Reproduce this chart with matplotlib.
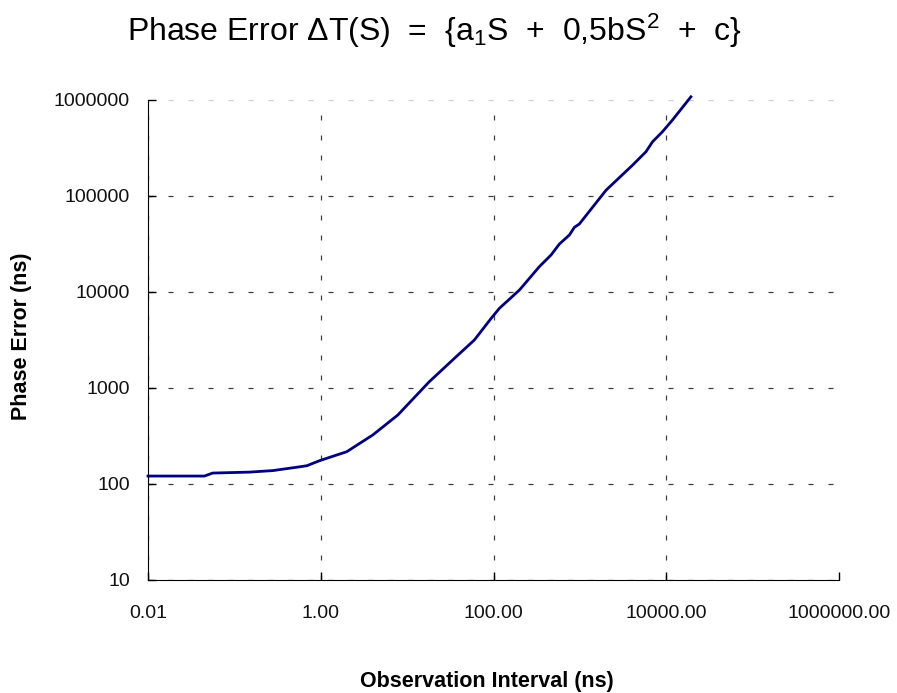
import matplotlib
matplotlib.use('Agg')
import matplotlib.pyplot as plt
from matplotlib.ticker import FixedLocator, FuncFormatter

plt.rcParams['font.family'] = ['Liberation Sans', 'DejaVu Sans']
plt.rcParams['mathtext.fontset'] = 'custom'
plt.rcParams['mathtext.rm'] = 'Liberation Sans'
plt.rcParams['mathtext.it'] = 'Liberation Sans'

# values
interval_ns = [0.01, 0.045, 0.056, 0.15, 0.28, 0.57, 0.69, 0.97, 2.0, 4.0, 7.8, 18, 37, 60, 94, 117,
               200, 340, 464, 579, 757, 864, 986, 2010, 4080, 5820, 6950, 9060, 11800, 19300]
phase_err_ns = [121, 121, 130, 133, 138, 151, 155, 175, 217, 324, 523, 1160, 2120, 3160, 5320, 6760,
                10500, 18400, 24300, 31600, 39300, 47200, 51100, 115000, 210000, 289000, 368000,
                468000, 619000, 1080000]
x_ticks = [0.01, 1, 100, 1e4, 1e6]
y_ticks = [10, 100, 1000, 1e4, 1e5, 1e6]

fig = plt.figure(figsize=(8.97, 6.93), dpi=100)
ax = fig.add_axes([148/897, 1 - 580/693, (839 - 148)/897, (580 - 100)/693])

ax.plot(interval_ns, phase_err_ns, color='#000080', lw=2, clip_on=False, zorder=3)

ax.set_xscale('log')
ax.set_yscale('log')
ax.set_xlim(0.01, 1e6)
ax.set_ylim(10, 1e6)
ax.xaxis.set_major_locator(FixedLocator(x_ticks))
ax.yaxis.set_major_locator(FixedLocator(y_ticks))
ax.xaxis.set_minor_locator(FixedLocator([]))
ax.yaxis.set_minor_locator(FixedLocator([]))
ax.xaxis.set_major_formatter(FuncFormatter(lambda v, p: '%.2f' % v))
ax.yaxis.set_major_formatter(FuncFormatter(lambda v, p: '%d' % v))
ax.tick_params(direction='in', length=6, width=1, labelsize=14, color='black', labelcolor='#111111')
ax.tick_params(axis='y', pad=13)
ax.tick_params(axis='x', pad=18)

ax.grid(True, color='#404040', ls=(0, (4, 12)), lw=0.9)
# no vertical grid at the right edge, faint one along the top
ax.xaxis.get_gridlines()[-1].set_visible(False)
ax.yaxis.get_gridlines()[-1].set_color('#cccccc')

for side in ['top', 'right']:
    ax.spines[side].set_visible(False)

fig.text(487/897, 1 - 681/693, 'Observation Interval (ns)', ha='center', va='center',
         fontsize=15.5, fontweight='bold')
fig.text(22/897, 1 - 336/693, 'Phase Error (ns)', ha='center', va='center', rotation=90,
         fontsize=15.5, fontweight='bold')

fig.text(434/897, 1 - 31/693, r'Phase Error $\Delta$T(S)  =  {a$_1$S  +  0,5bS$^2$  +  c}',
         ha='center', va='center', fontsize=23)

plt.savefig('out.png', dpi=100)
